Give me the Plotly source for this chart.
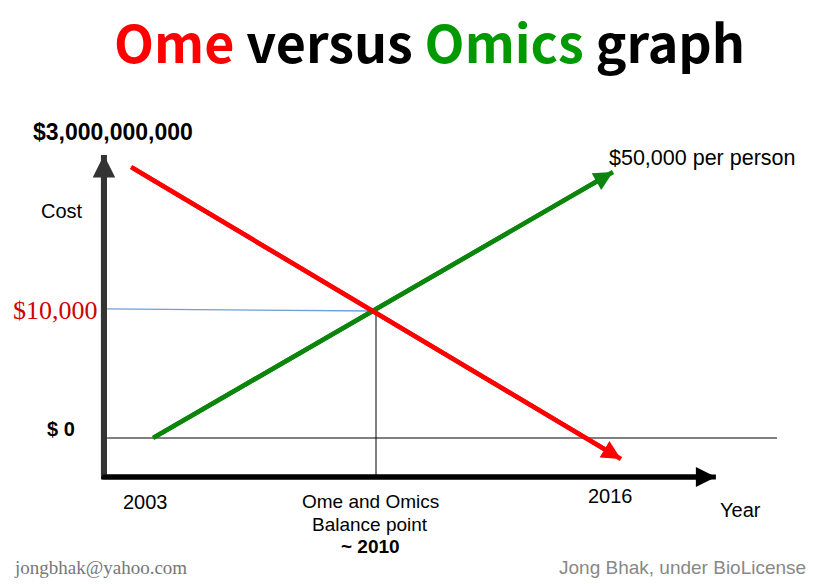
import plotly.graph_objects as go

W, H = 823, 584

# ---- data (x: year, y: relative cost units; $0 -> 0, $10,000 -> 10) ----
green_year = [2003.0, 2017.44]
green_cost = [0.0, 20.94]
red_year = [2002.31, 2017.69]
red_cost = [21.34, -1.65]
balance_year = [2010.0, 2010.0]
balance_cost = [10.0, -2.91]
guide_year = [2001.56, 2010.0]
guide_cost = [10.16, 10.0]
zero_year = [2001.56, 2022.59]
zero_cost = [0.0, 0.0]
yaxis_year = [2001.46, 2001.46]
yaxis_cost = [-3.15, 22.28]
xaxis_year = [2001.37, 2020.67]
xaxis_cost = [-3.07, -3.07]

x_range = [1998.197, 2024.032]
y_range = [-11.496, 34.488]

fig = go.Figure()

def line(xs, ys, color, width):
    fig.add_trace(go.Scatter(x=xs, y=ys, mode="lines",
                             line=dict(color=color, width=width),
                             hoverinfo="skip", showlegend=False))

line(zero_year, zero_cost, "#000000", 1)
line(balance_year, balance_cost, "#000000", 1)
line(guide_year, guide_cost, "#6f9fd8", 1.3)
line(yaxis_year, yaxis_cost, "#333333", 6)
line(xaxis_year, xaxis_cost, "#000000", 5)
line(green_year, green_cost, "#0b850b", 4.5)
line(red_year, red_cost, "#ff0000", 4.5)

def arrow(xs, ys, color, width, size):
    fig.add_annotation(x=xs[1], y=ys[1], ax=xs[0], ay=ys[0],
                       xref="x", yref="y", axref="x", ayref="y",
                       text="", showarrow=True, arrowhead=2,
                       arrowwidth=width, arrowsize=size, arrowcolor=color,
                       standoff=0)

arrow(yaxis_year, yaxis_cost, "#333333", 6, 0.75)
arrow(xaxis_year, xaxis_cost, "#000000", 5, 0.8)
arrow(green_year, green_cost, "#0b850b", 4.5, 0.85)
arrow(red_year, red_cost, "#ff0000", 4.5, 0.85)

def P(px, py):
    return px / W, 1 - py / H

def label(text, px, py, size, color="#000000", family="Liberation Sans, Arial",
          bold=False, xanchor="center"):
    x, y = P(px, py)
    fig.add_annotation(x=x, y=y, xref="paper", yref="paper", text=text,
                       showarrow=False, xanchor=xanchor, yanchor="middle",
                       font=dict(size=size, color=color, family=family,
                                 weight="bold" if bold else "normal"))

title = ("<span style='color:#ff0000'>Ome</span> versus "
         "<span style='color:#009900'>Omics</span> graph")
label(title, 429, 40, 52, family="Noto Sans CJK KR", bold=True)

label("$3,000,000,000", 113, 132, 23, bold=True)
label("Cost", 62, 211, 20)
label("$10,000", 55, 310, 26, color="#d00000", family="Liberation Serif, Times New Roman")
label("$ 0", 61, 429, 20, bold=True)
label("$50,000 per person", 702, 158, 21.5)
label("2003", 145, 502, 20)
label("2016", 610, 496, 20)
label("Year", 740, 510, 20)
label("Ome and Omics", 370, 501, 19)
label("Balance point", 370, 524, 19)
label("~ 2010", 370, 546, 19, bold=True)
label("jongbhak@yahoo.com", 12, 567, 19, color="#777777",
      family="Liberation Serif, Times New Roman", xanchor="left")
label("Jong Bhak, under BioLicense", 808, 567, 19, color="#888888",
      xanchor="right")

fig.update_layout(
    width=W, height=H, autosize=False,
    margin=dict(l=0, r=0, t=0, b=0, pad=0),
    paper_bgcolor="white", plot_bgcolor="white",
    xaxis=dict(range=x_range, visible=False, fixedrange=True),
    yaxis=dict(range=y_range, visible=False, fixedrange=True),
    showlegend=False,
)

fig.write_html("out.html")
